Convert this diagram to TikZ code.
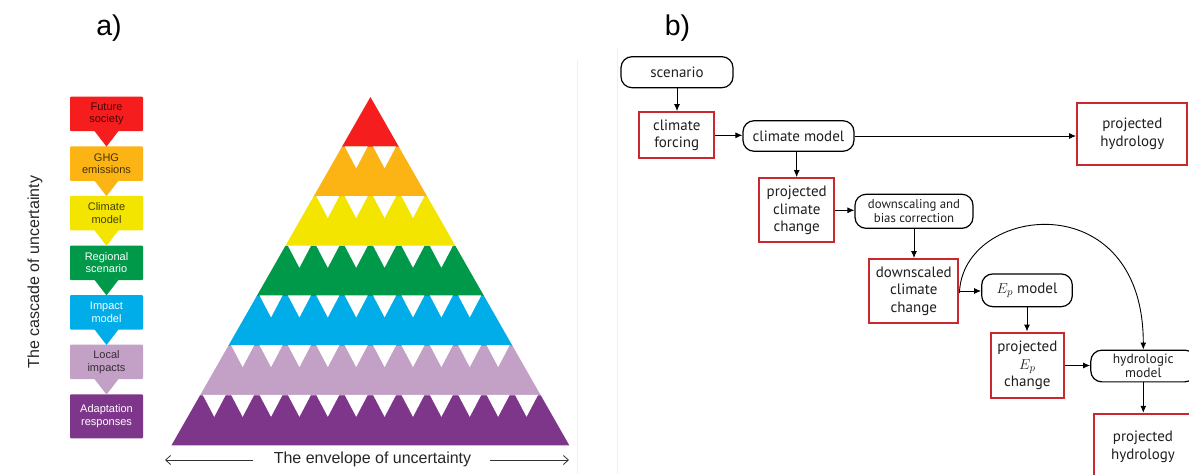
\documentclass[tikz,border=0pt]{standalone}
\usepackage{fontspec}
\setmainfont{Liberation Sans}
\newfontfamily\bfont{PT Sans}
\usetikzlibrary{arrows.meta,calc}
\definecolor{cRed}{HTML}{F51D1D}
\definecolor{cOrange}{HTML}{FCB415}
\definecolor{cYellow}{HTML}{F3E500}
\definecolor{cGreen}{HTML}{00994A}
\definecolor{cCyan}{HTML}{00ADE9}
\definecolor{cLilac}{HTML}{C3A0C6}
\definecolor{cPurple}{HTML}{7E368A}
\definecolor{bRed}{HTML}{C8282E}
\begin{document}
\begin{tikzpicture}[x=1pt,y=-1pt,
  cbox/.style={rectangle, rounded corners=1pt, minimum width=73pt, minimum height=34.5pt, align=center, inner sep=0pt, font=\fontsize{11}{12.5}\selectfont},
  darkt/.style={text=black, text opacity=0.72},
  whitet/.style={text=white},
  rbox/.style={draw=bRed, line width=2.3pt, rectangle, align=center, inner sep=0pt, font=\bfont\fontsize{15}{17.5}\selectfont, text=black!88},
  rnd/.style={draw=black, line width=1.2pt, rectangle, rounded corners=11pt, align=center, inner sep=0pt, font=\bfont\fontsize{15}{17.5}\selectfont, text=black!88},
  small/.style={font=\bfont\fontsize{12.8}{14}\selectfont},
  arr/.style={-{Latex[length=7pt,width=6pt]}, line width=1pt},
  bigarr/.style={-{Straight Barb[length=5pt,width=9pt]}, line width=0.8pt, black!80},
  lbl/.style={font=\fontsize{28.5}{30}\selectfont, anchor=base, text=black},
]
\path[use as bounding box] (0,0) rectangle (1189,474);
\fill[white] (0,0) rectangle (1189,474);
\begin{scope}
\clip (0,0) rectangle (1189,474);

% faint panel borders
\draw[gray!12, line width=1pt] (577,60) -- (577,474);
\draw[gray!12, line width=1pt] (617,48) -- (617,474);

% labels
\node[lbl] (la) at (109,35) {a)};
\node[lbl] (lb) at (677.5,35) {b)};

% ---------- cascade ----------
\node[cbox, fill=cRed, darkt] (c1) at (106.5,113.95) {Future\\society};
\node[cbox, fill=cOrange, darkt] (c2) at (106.5,163.55) {GHG\\emissions};
\node[cbox, fill=cYellow, darkt] (c3) at (106.5,213.15) {Climate\\model};
\node[cbox, fill=cGreen, whitet] (c4) at (106.5,262.75) {Regional\\scenario};
\node[cbox, fill=cCyan, whitet] (c5) at (106.5,312.35) {Impact\\model};
\node[cbox, fill=cLilac, darkt] (c6) at (106.5,361.95) {Local\\impacts};
\node[cbox, fill=cPurple, whitet, minimum height=44pt] (c7) at (106.5,416.3) {Adaptation\\responses};
\foreach \a/\b/\col in {c1/c2/cRed,c2/c3/cOrange,c3/c4/cYellow,c4/c5/cGreen,c5/c6/cCyan,c6/c7/cLilac}{
  \fill[\col] ($(\a.south)+(-12.5,-1)$) -- ($(\a.south)+(12.5,-1)$) -- ($(\b.north)+(0,0.5)$) -- cycle;
}
\node[rotate=90, font=\fontsize{16}{18}\selectfont, text=black!85] (casc) at (35,272) {The cascade of uncertainty};

% ---------- pyramid ----------
\def\pcx{370.4}
\def\ptop{97}
\def\ph{49.714}
\def\pp{28.39}
\foreach \n/\col in {1/cRed,2/cOrange,3/cYellow,4/cGreen,5/cCyan,6/cLilac,7/cPurple}{
  \pgfmathsetmacro\yt{\ptop+(\n-1)*\ph}
  \pgfmathsetmacro\yb{\ptop+\n*\ph+0.4}
  \pgfmathsetmacro\wt{(\n-1)*\pp}
  \pgfmathsetmacro\wb{(\n*\ph+0.4)*\pp/\ph}
  \fill[\col] ({\pcx-\wt},\yt) -- ({\pcx+\wt},\yt) -- ({\pcx+\wb},\yb) -- ({\pcx-\wb},\yb) -- cycle;
}
\foreach \n in {2,...,7}{
  \pgfmathsetmacro\yt{\ptop+(\n-1)*\ph}
  \pgfmathtruncatemacro\mneg{1-\n}
  \pgfmathtruncatemacro\mm{\n-2}
  \foreach \j in {\mneg,...,\mm}{
    \pgfmathsetmacro\xc{\pcx+(\j+0.5)*\pp}
    \fill[white] ({\xc-11.5},{\yt-0.4}) -- ({\xc+11.5},{\yt-0.4}) -- (\xc,{\yt+21.5}) -- cycle;
  }
}
\node[font=\fontsize{16}{18}\selectfont, text=black!85] (env) at (372.5,459) {The envelope of uncertainty};
\coordinate (eL) at (165,460);
\coordinate (eR) at (569,460);
\coordinate (eLs) at (253,460);
\coordinate (eRs) at (490,460);
\draw[bigarr] (eLs) -- (eL);
\draw[bigarr] (eRs) -- (eR);

% ---------- flowchart ----------
\node[rnd, minimum width=112pt, minimum height=31pt] (scen) at (677,72.2) {scenario};
\node[rbox, minimum width=75pt, minimum height=46pt] (forc) at (676.7,135.3) {climate\\forcing};
\node[rnd, minimum width=111pt, minimum height=30.5pt] (cmod) at (798.5,136) {climate model};
\node[rbox, minimum width=110pt, minimum height=62pt] (ptop) at (1132.3,134) {projected\\hydrology};
\node[rbox, minimum width=75pt, minimum height=64pt] (pcc) at (796.7,210.3) {projected\\climate\\change};
\node[rnd, small, minimum width=118pt, minimum height=34pt] (down) at (914,211.3) {downscaling and\\bias correction};
\node[rbox, minimum width=89pt, minimum height=63.4pt] (dcc) at (913.8,291) {downscaled\\climate\\change};
\node[rnd, minimum width=90.6pt, minimum height=32.7pt] (ep) at (1027,290.3) {$E_p$ model};
\node[rbox, minimum width=73.3pt, minimum height=65.6pt] (pep) at (1027.3,365.5) {projected\\$E_p$\\change};
\node[rnd, minimum width=105pt, minimum height=31.7pt, font=\bfont\fontsize{13.5}{13.5}\selectfont] (hyd) at (1143.3,366) {hydrologic\\model};
\node[rbox, minimum width=98pt, minimum height=66pt] (pbot) at (1143,447) {projected\\hydrology};

\draw[arr] (scen.south) -- (scen.south |- forc.north);
\draw[arr] (forc.east) -- (forc.east -| cmod.west);
\draw[arr] (cmod.east) -- (cmod.east -| ptop.west);
\draw[arr] (pcc.north |- cmod.south) -- (pcc.north);
\draw[arr] (pcc.east) -- (pcc.east -| down.west);
\draw[arr] (down.south) -- (down.south |- dcc.north);
\draw[arr] (dcc.east) -- (dcc.east -| ep.west);
\draw[arr] (ep.south) -- (ep.south |- pep.north);
\draw[arr] (pep.east) -- (pep.east -| hyd.west);
\draw[arr] (hyd.south) -- (hyd.south |- pbot.north);
\draw[arr, line width=0.9pt] ([yshift=-2pt]dcc.east) .. controls (962,205) and (1143.3,182) .. (hyd.north);
\end{scope}
\end{tikzpicture}
\end{document}
